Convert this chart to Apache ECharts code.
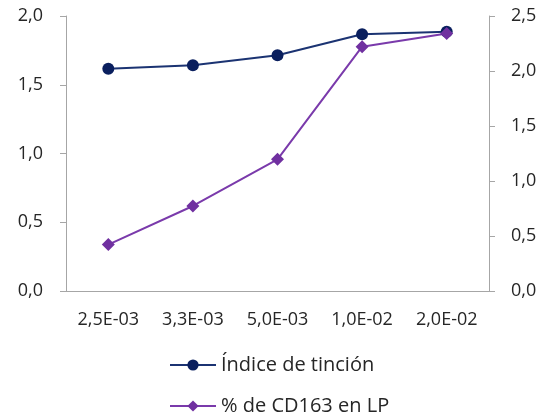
<!DOCTYPE html>
<html><head><meta charset="utf-8">
<script src="https://cdn.jsdelivr.net/npm/echarts@6/dist/echarts.min.js"></script>
<style>html,body{margin:0;padding:0;background:#fff}#c{width:549px;height:417px}</style>
</head><body><div id="c"></div>
<script>
var categories = ['2,5E-03','3,3E-03','5,0E-03','1,0E-02','2,0E-02'];
var indiceTincion = [1.617, 1.641, 1.714, 1.867, 1.885];
var cd163LP = [0.422, 0.773, 1.197, 2.221, 2.34];
var seriesNames = ['Índice de tinción', '% de CD163 en LP'];

var fmt = function(v){ return v.toFixed(1).replace('.', ','); };
var font = '"Open Sans", sans-serif';
var axisGrey = '#a6a6a6';
var txt = '#262626';
var chart = echarts.init(document.getElementById('c'));
function leg(name, top){
  return {
    orient: 'vertical', left: 169, top: top, padding: 0,
    itemWidth: 46, itemHeight: 14, itemGap: 5,
    textStyle: {fontSize: 20, color: txt, fontFamily: font},
    data: [name]
  };
}
chart.setOption({
  animation: false,
  textStyle: {fontFamily: font},
  grid: {left: 66, right: 60, top: 16, bottom: 126},
  legend: [leg(seriesNames[0], 355), leg(seriesNames[1], 396)],
  xAxis: {
    type: 'category', data: categories, boundaryGap: true,
    axisLine: {lineStyle: {color: axisGrey}},
    axisTick: {length: 7, lineStyle: {color: axisGrey}},
    axisLabel: {fontSize: 18, color: txt, margin: 20, interval: 0, fontFamily: font}
  },
  yAxis: [{
    type: 'value', min: 0, max: 2, interval: 0.5,
    splitLine: {show: false},
    axisLine: {show: true, lineStyle: {color: axisGrey}},
    axisTick: {show: true, length: 6, lineStyle: {color: axisGrey}},
    axisLabel: {fontSize: 18, color: txt, margin: 23, formatter: fmt, fontFamily: font}
  }, {
    type: 'value', min: 0, max: 2.5, interval: 0.5,
    splitLine: {show: false},
    axisLine: {show: true, lineStyle: {color: axisGrey}},
    axisTick: {show: true, length: 6, lineStyle: {color: axisGrey}},
    axisLabel: {fontSize: 18, color: txt, margin: 22, formatter: fmt, fontFamily: font}
  }],
  series: [{
    name: seriesNames[0], type: 'line', yAxisIndex: 0, data: indiceTincion,
    symbol: 'circle', symbolSize: 12,
    lineStyle: {color: '#1b3372', width: 2},
    itemStyle: {color: '#0a1f5e'}
  }, {
    name: seriesNames[1], type: 'line', yAxisIndex: 1, data: cd163LP,
    symbol: 'diamond', symbolSize: 13,
    lineStyle: {color: '#7a3aab', width: 2},
    itemStyle: {color: '#7030a0'}
  }]
});
</script></body></html>
